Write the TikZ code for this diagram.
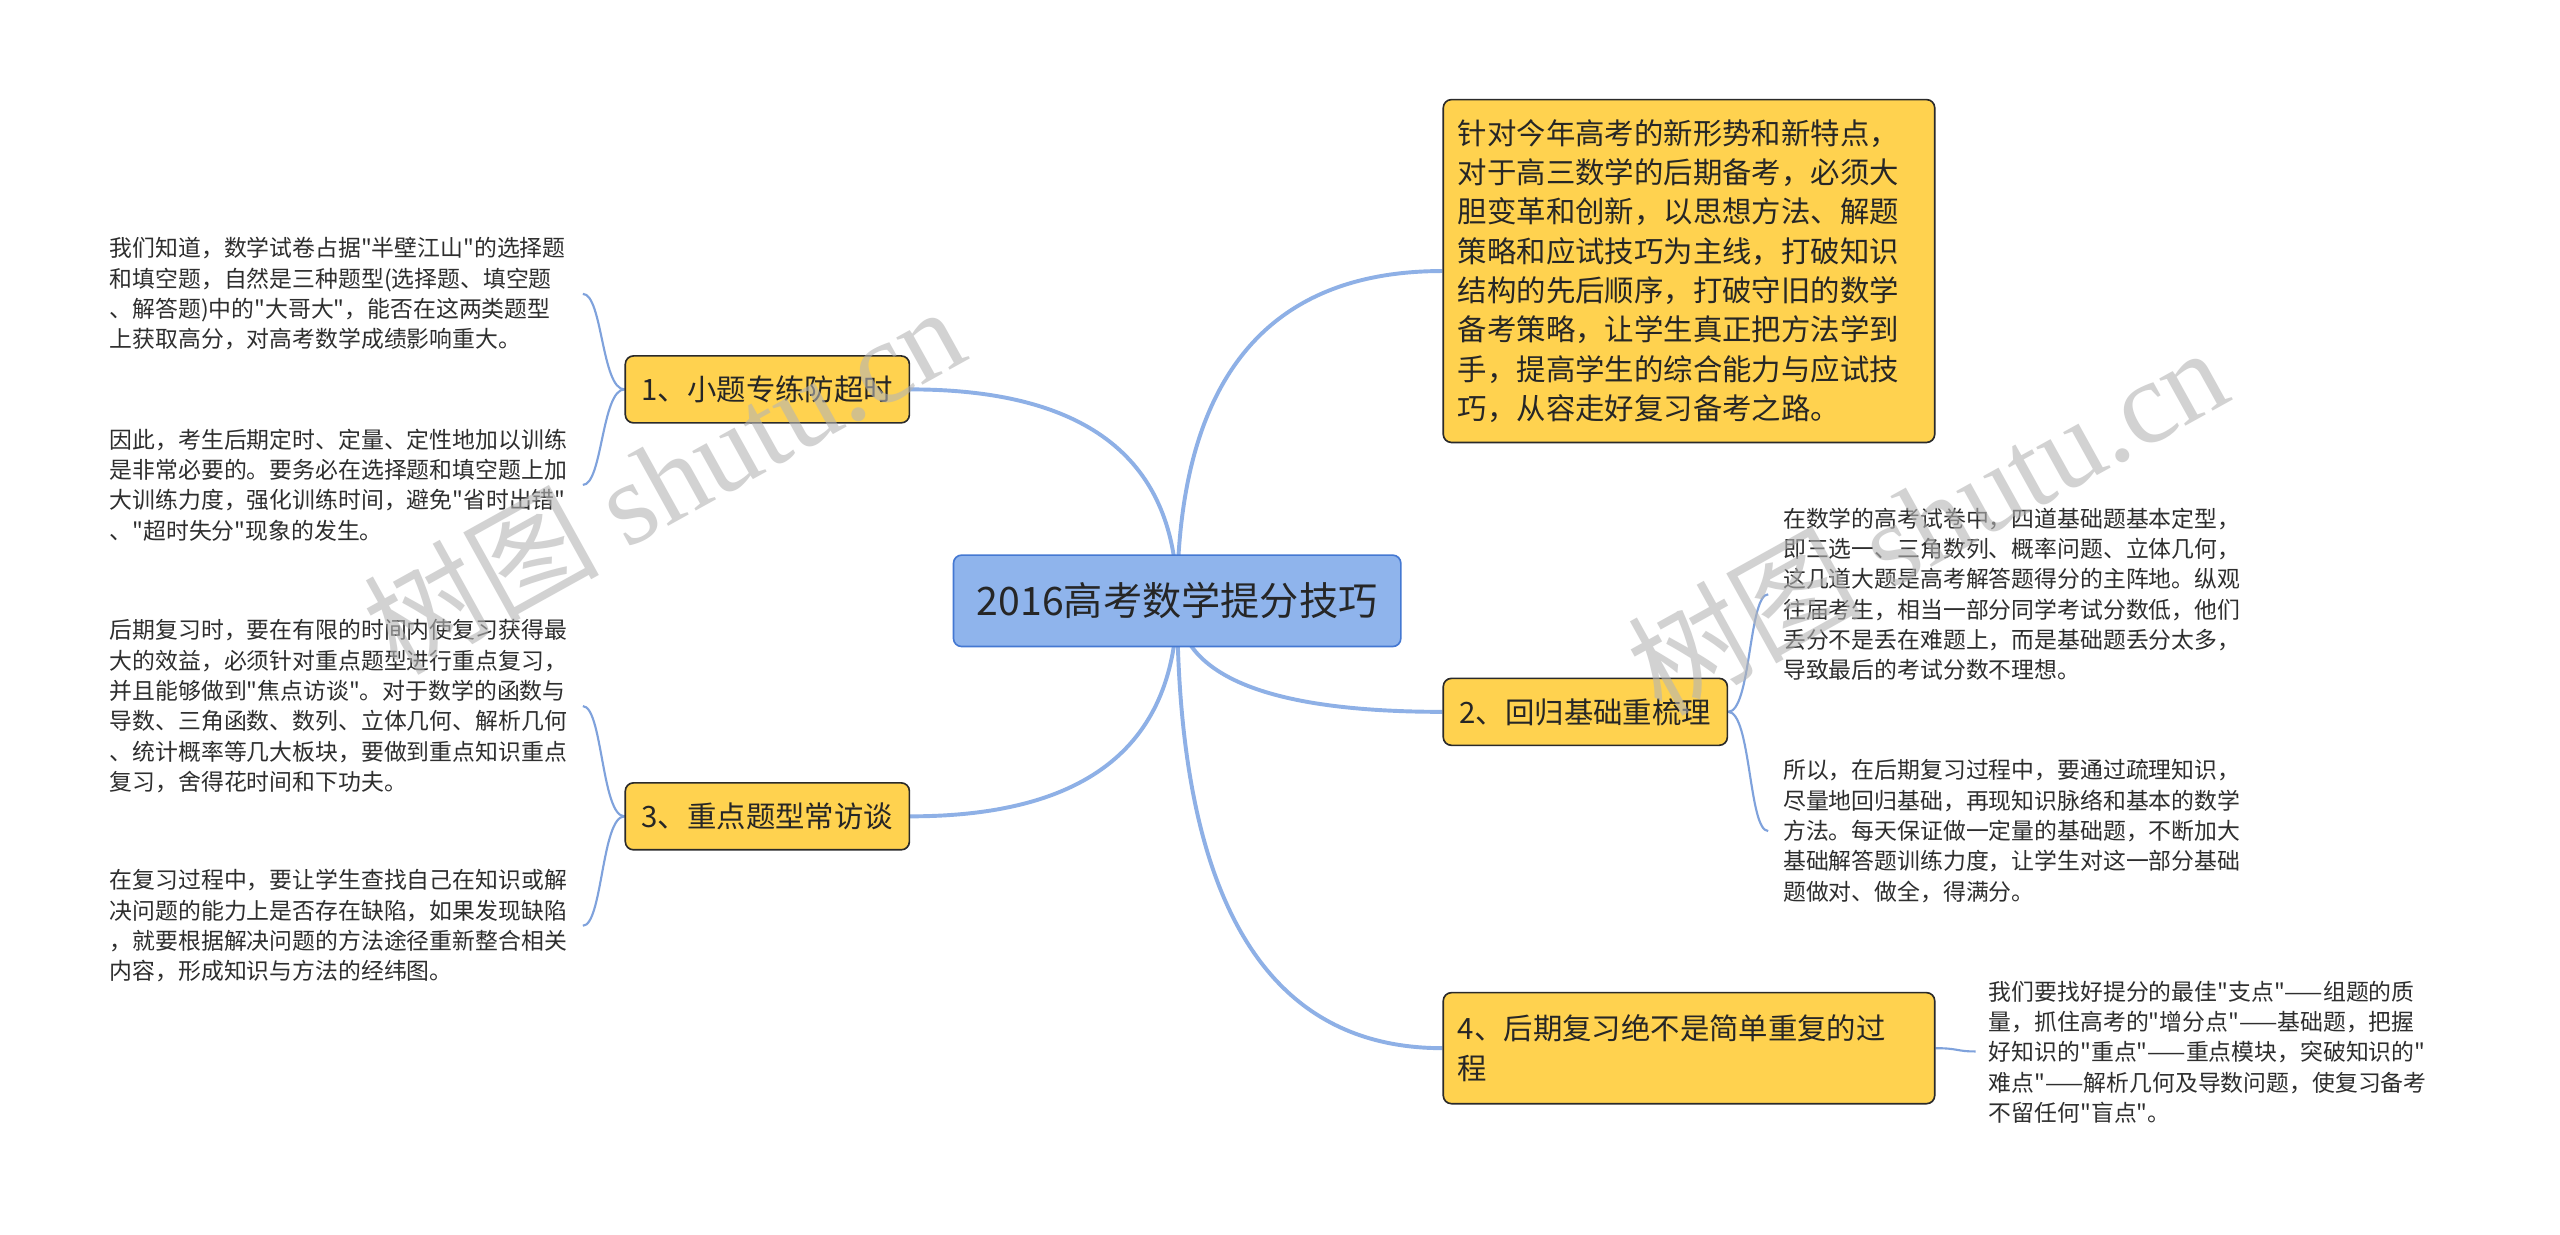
\documentclass[tikz,border=0pt]{standalone}
\usepackage{fontspec}
\newfontfamily\cjkfont{Noto Sans CJK SC}
\newfontfamily\wmserif{Liberation Serif}
\usetikzlibrary{calc,backgrounds}
\definecolor{rootfill}{HTML}{8FB4EC}
\definecolor{rootdraw}{HTML}{4478D2}
\definecolor{branch}{HTML}{8EB0E6}
\definecolor{leafbranch}{HTML}{7FA2DC}
\definecolor{boxfill}{HTML}{FFD24F}
\definecolor{boxdraw}{HTML}{2A2A2A}
\definecolor{txt}{HTML}{262626}
\definecolor{leaftxt}{HTML}{2E2E2E}
\definecolor{wmgray}{HTML}{B4B4B4}
\tikzset{
  rootbox/.style={draw=rootdraw, fill=rootfill, rounded corners=5pt, line width=1pt,
    minimum width=274pt, minimum height=56pt, inner sep=0pt,
    font=\cjkfont\fontsize{24}{28}\selectfont, text=txt},
  topicbox/.style={draw=boxdraw, fill=boxfill, rounded corners=5pt, line width=1pt,
    minimum width=174pt, minimum height=41pt, inner sep=0pt,
    font=\cjkfont\fontsize{18}{24}\selectfont, text=txt},
  widebox/.style={draw=boxdraw, fill=boxfill, rounded corners=5pt, line width=1pt,
    minimum width=301pt, inner xsep=9pt, inner ysep=0pt, text width=283pt, align=left,
    font=\cjkfont\fontsize{18}{24.1}\selectfont, text=txt},
  leaftext/.style={font=\cjkfont\fontsize{14}{18.6}\selectfont, align=left, inner sep=0pt, text=leaftxt},
  branchline/.style={draw=branch, line width=2.4pt},
  leafline/.style={draw=leafbranch, line width=1.3pt},
  wmark/.style={text=wmgray, opacity=0.6, font=\cjkfont\fontsize{72}{72}\selectfont, inner sep=0pt}
}
\begin{document}
\begin{tikzpicture}[x=1pt,y=-1pt]
\path[use as bounding box] (0,0) rectangle (1568,756);

% nodes
\node[rootbox] (root) at (721,368) {2016高考数学提分技巧};
\node[widebox, minimum height=210pt] (tr) at (1034.5,166) {针对今年高考的新形势和新特点，\\对于高三数学的后期备考，必须大\\胆变革和创新，以思想方法、解题\\策略和应试技巧为主线，打破知识\\结构的先后顺序，打破守旧的数学\\备考策略，让学生真正把方法学到\\手，提高学生的综合能力与应试技\\巧，从容走好复习备考之路。};
\node[topicbox] (n1) at (470,238.5) {1、小题专练防超时};
\node[topicbox] (n2) at (971,436) {2、回归基础重梳理};
\node[topicbox] (n3) at (470,500) {3、重点题型常访谈};
\node[widebox, minimum height=68pt] (n4) at (1034.5,642) {4、后期复习绝不是简单重复的过\\程};

% leaves
\node[leaftext, anchor=west] (l1a) at (67,180) {我们知道，数学试卷占据"半壁江山"的选择题\\和填空题，自然是三种题型(选择题、填空题\\、解答题)中的"大哥大"，能否在这两类题型\\上获取高分，对高考数学成绩影响重大。};
\node[leaftext, anchor=west] (l1b) at (67,297) {因此，考生后期定时、定量、定性地加以训练\\是非常必要的。要务必在选择题和填空题上加\\大训练力度，强化训练时间，避免"省时出错"\\、"超时失分"现象的发生。};
\node[leaftext, anchor=west] (l3a) at (67,432.5) {后期复习时，要在有限的时间内使复习获得最\\大的效益，必须针对重点题型进行重点复习，\\并且能够做到"焦点访谈"。对于数学的函数与\\导数、三角函数、数列、立体几何、解析几何\\、统计概率等几大板块，要做到重点知识重点\\复习，舍得花时间和下功夫。};
\node[leaftext, anchor=west] (l3b) at (67,567) {在复习过程中，要让学生查找自己在知识或解\\决问题的能力上是否存在缺陷，如果发现缺陷\\，就要根据解决问题的方法途径重新整合相关\\内容，形成知识与方法的经纬图。};
\node[leaftext, anchor=west] (l2a) at (1092,364) {在数学的高考试卷中，四道基础题基本定型，\\即三选一、三角数列、概率问题、立体几何，\\这几道大题是高考解答题得分的主阵地。纵观\\往届考生，相当一部分同学考试分数低，他们\\丢分不是丢在难题上，而是基础题丢分太多，\\导致最后的考试分数不理想。};
\node[leaftext, anchor=west] (l2b) at (1092,509) {所以，在后期复习过程中，要通过疏理知识，\\尽量地回归基础，再现知识脉络和基本的数学\\方法。每天保证做一定量的基础题，不断加大\\基础解答题训练力度，让学生对这一部分基础\\题做对、做全，得满分。};
\node[leaftext, anchor=west] (l4) at (1218,644.5) {我们要找好提分的最佳"支点"——组题的质\\量，抓住高考的"增分点"——基础题，把握\\好知识的"重点"——重点模块，突破知识的"\\难点"——解析几何及导数问题，使复习备考\\不留任何"盲点"。};

% connector ends
\coordinate (e1a) at (357,180);
\coordinate (e1b) at (357,297);
\coordinate (e3a) at (357,432.5);
\coordinate (e3b) at (357,567);
\coordinate (e2a) at (1083,364);
\coordinate (e2b) at (1083,509);
\coordinate (e4) at (1210,644);

\begin{scope}[on background layer]
\fill[white] (0,0) rectangle (1568,756);
% main branches (quadratic-like curves from root centre)
\foreach \t/\a in {n1/east, tr/west, n2/west, n3/east, n4/west}{
  \draw[branchline] (root.center)
    .. controls ($(root.center)!0.667!(root.center|-\t.\a)$)
    and ($(\t.\a)!0.667!(root.center|-\t.\a)$) .. (\t.\a);
}
% leaf connectors
\foreach \s/\e in {n1/e1a, n1/e1b, n3/e3a, n3/e3b}{
  \draw[leafline] (\s.west) .. controls +(-14,0) and ($(\e)+(12,0)$) .. (\e);
}
\foreach \s/\e in {n2/e2a, n2/e2b, n4/e4}{
  \draw[leafline] (\s.east) .. controls +(14,0) and ($(\e)+(-12,0)$) .. (\e);
}
\end{scope}

% watermarks
\node[wmark, rotate=29] (wm1) at (406,293) {树图 {\wmserif shutu.cn}};
\node[wmark, rotate=29] (wm2) at (1180,318) {树图 {\wmserif shutu.cn}};
\end{tikzpicture}
\end{document}
